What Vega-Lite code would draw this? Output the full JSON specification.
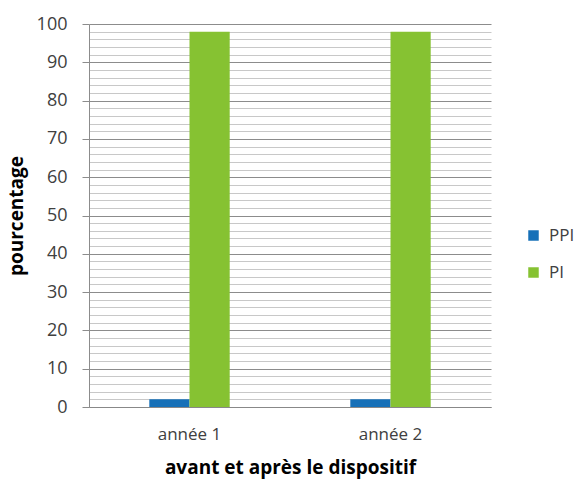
{
  "$schema": "https://vega.github.io/schema/vega-lite/v6.json",
  "autosize": {"type": "none"},
  "width": 402,
  "height": 383,
  "padding": {"left": 89, "top": 24, "right": 83, "bottom": 73},
  "background": "white",
  "config": {"font": "Open Sans", "view": {"stroke": null}},
  "data": {"values": [
    {"annee": "année 1", "serie": "PPI", "valeur": 2},
    {"annee": "année 1", "serie": "PI", "valeur": 98},
    {"annee": "année 2", "serie": "PPI", "valeur": 2},
    {"annee": "année 2", "serie": "PI", "valeur": 98}
  ]},
  "mark": {"type": "bar"},
  "encoding": {
    "x": {
      "field": "annee", "type": "nominal",
      "scale": {"paddingInner": 0.6, "paddingOuter": 0.3},
      "axis": {
        "title": "avant et après le dispositif",
        "titleFontWeight": "bold", "titleFontSize": 19, "titleColor": "#000000",
        "titlePadding": 16,
        "labelAngle": 0, "labelFontSize": 17, "labelColor": "#404040", "labelPadding": 19,
        "domainColor": "#888888", "ticks": false, "grid": false
      }
    },
    "xOffset": {"field": "serie", "type": "nominal", "sort": ["PPI", "PI"]},
    "y": {
      "field": "valeur", "type": "quantitative",
      "scale": {"domain": [0, 100], "nice": false},
      "axis": {
        "title": "pourcentage",
        "titleFontWeight": "bold", "titleFontSize": 19, "titleColor": "#000000",
        "titlePadding": 10,
        "values": [0,2,4,6,8,10,12,14,16,18,20,22,24,26,28,30,32,34,36,38,40,42,44,46,48,50,52,54,56,58,60,62,64,66,68,70,72,74,76,78,80,82,84,86,88,90,92,94,96,98,100],
        "labelExpr": "datum.value % 10 === 0 ? datum.label : ''",
        "labelFontSize": 18, "labelColor": "#404040", "labelPadding": 15,
        "grid": true,
        "gridColor": {"condition": {"test": "datum.value % 10 === 0", "value": "#8c8c8c"}, "value": "#c8c8c8"},
        "gridWidth": 1,
        "tickColor": {"condition": {"test": "datum.value % 10 === 0", "value": "#8c8c8c"}, "value": "transparent"},
        "tickSize": 7,
        "domainColor": "#8c8c8c"
      }
    },
    "color": {
      "field": "serie", "type": "nominal",
      "scale": {"domain": ["PPI", "PI"], "range": ["#1670B8", "#86C232"]},
      "legend": {
        "title": null, "orient": "none", "legendX": 436, "legendY": 203,
        "symbolType": "square", "symbolSize": 110, "symbolStrokeWidth": 0,
        "labelFontSize": 17, "labelColor": "#404040", "rowPadding": 19, "labelOffset": 7
      }
    }
  }
}
